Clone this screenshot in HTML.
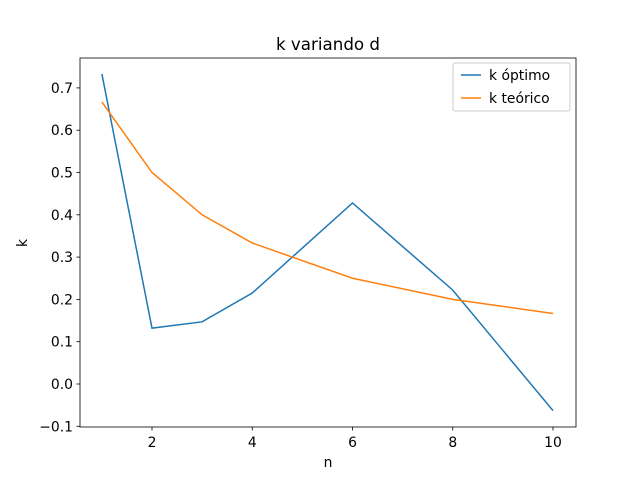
<!DOCTYPE html>
<html><head><meta charset="utf-8"><style>
body{margin:0;background:#fff}
svg{display:block;font-family:"DejaVu Sans","Liberation Sans",sans-serif}
</style></head><body>
<svg id="chart" width="640" height="480">
<rect width="640" height="480" fill="#fff"/>
<text x="328" y="50" font-size="16.7" text-anchor="middle">k variando d</text>
<g id="plot"></g>
<rect x="80" y="58" width="496" height="369" fill="none" stroke="#000" stroke-width="0.8"/>
<text x="328" y="467" font-size="13.9" text-anchor="middle">n</text>
<text x="27" y="243" font-size="13.9" text-anchor="middle" transform="rotate(-90 27 243)">k</text>
<g>
<rect x="453" y="63" width="117" height="48" rx="2" fill="#fff" stroke="#ccc" stroke-width="1"/>
<line x1="461" y1="75" x2="481" y2="75" stroke="#1f77b4" stroke-width="1.5"/>
<text x="489" y="80" font-size="13.9">k óptimo</text>
<line x1="461" y1="98" x2="481" y2="98" stroke="#ff7f0e" stroke-width="1.5"/>
<text x="489" y="103" font-size="13.9">k teórico</text>
</g>
</svg>
<script>
const nValues=[1,2,3,4,6,8,10];
const kOptimo=[0.733,0.132,0.147,0.215,0.428,0.222,-0.063];
const kTeorico=[0.6667,0.5,0.4,0.3333,0.25,0.2,0.1667];
const xTicks=[2,4,6,8,10];
const yTicks=[-0.1,0,0.1,0.2,0.3,0.4,0.5,0.6,0.7];
const X=n=>152+(n-2)*50.125;
const Y=v=>384-v*423;
const NS="http://www.w3.org/2000/svg";
const g=document.getElementById('plot');
function mk(t,a){const e=document.createElementNS(NS,t);for(const k in a)e.setAttribute(k,a[k]);g.appendChild(e);return e;}
xTicks.forEach(t=>{
 const l=mk('line',{x1:X(t),x2:X(t),y1:427,y2:430.5,stroke:'#000','stroke-width':0.8});
 
 
 const tx=mk('text',{x:X(t),y:447,'font-size':13.9,'text-anchor':'middle'});tx.textContent=t;
 
 
});
yTicks.forEach(t=>{
 const l=mk('line',{x1:76.5,x2:80,y1:Y(t),y2:Y(t),stroke:'#000','stroke-width':0.8});
 
 
 const tx=mk('text',{x:73,y:Y(t)+5,'font-size':13.9,'text-anchor':'end'});tx.textContent=(t<0?'\u2212':'')+Math.abs(t).toFixed(1);
 
 
});
function line(vals,color,name){
 const p=mk('polyline',{points:nValues.map((n,i)=>X(n)+','+Y(vals[i])).join(' '),fill:'none',stroke:color,'stroke-width':1.5});
 
 
}
line(kOptimo,'#1f77b4','k-optimo-line');
line(kTeorico,'#ff7f0e','k-teorico-line');
</script>
</body></html>
